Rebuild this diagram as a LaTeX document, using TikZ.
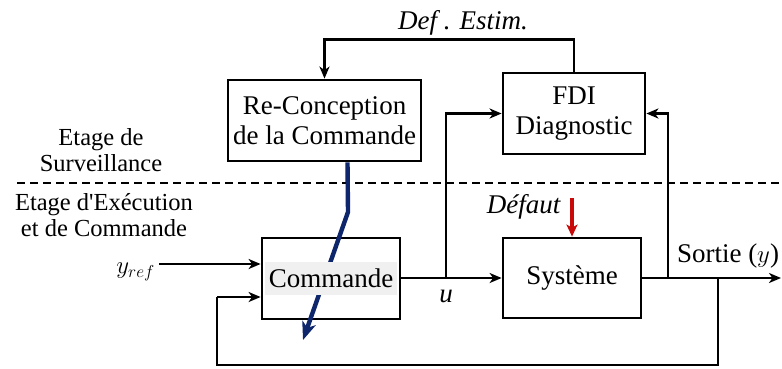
\documentclass[tikz,border=0pt]{standalone}
\usepackage{fontspec}
\setmainfont{Liberation Serif}
% same face without the TeX quote mapping, for a straight apostrophe
\newfontfamily\plainserif{Liberation Serif}
\usetikzlibrary{arrows.meta}
\definecolor{navy}{RGB}{14,38,108}
\definecolor{faultred}{RGB}{200,10,10}
\definecolor{hilite}{RGB}{240,240,240}
\tikzset{
  blockbox/.style={draw, line width=2.8pt, align=center, inner sep=0pt,
    font=\fontsize{27}{30}\selectfont},
  sigline/.style={line width=2.8pt},
  sigarrow/.style={line width=2.8pt, -{Stealth[length=12pt,width=10pt,inset=3.5pt]}},
  lbl/.style={inner sep=0pt, font=\fontsize{27}{30}\selectfont},
  stagelbl/.style={inner sep=0pt, align=center, font=\plainserif\fontsize{24.5}{26.5}\selectfont},
}
\begin{document}
\begin{tikzpicture}[x=1pt,y=-1pt]
\useasboundingbox (0,0) rectangle (782,368);

% blocks
\node[blockbox, minimum width=193pt, minimum height=81pt] (recon) at (324.5,120.5)
  {Re-Conception\\de la Commande};
\node[blockbox, minimum width=142pt, minimum height=81pt] (fdi) at (574,113.5)
  {FDI\\Diagnostic};
\node[draw, line width=2.8pt, minimum width=138pt, minimum height=81pt, inner sep=0pt] (cmdbox) at (331,278.5) {};
\node[blockbox, minimum width=138pt, minimum height=80pt] (sys) at (572,278)
  {Système};

% separation between the two stages
\coordinate (dashL) at (17,183);
\coordinate (dashR) at (782,183);
\draw[line width=1.9pt, dash pattern=on 8pt off 5pt] (dashL) -- (dashR);

\node[stagelbl] (surv) at (101,150) {Etage de\\Surveillance};
\node[stagelbl] (exec) at (104,215) {Etage d'Exécution\\et de Commande};

% estimated faults fed back to the reconfiguration
\draw[sigarrow] (fdi.north) -- ++(0,-32) -| (recon.north);
\node[lbl, anchor=base] (estim) at (463,29) {\textit{Def . Estim.}};

% reconfiguration acting on the controller
\coordinate (bend) at (348,212);
\coordinate (bluetip) at (303,340);
\draw[navy, line width=4.4pt, -{Stealth[length=18pt,width=14pt,inset=5pt]}]
  ([xshift=23pt]recon.south) -- (bend) -- (bluetip);
\node[fill=hilite, minimum width=132pt, minimum height=33pt, inner sep=0pt,
  font=\fontsize{27}{30}\selectfont] (cmd) at (331,278.5) {Commande};

% reference input
\coordinate (yrefstart) at (159,264);
\draw[sigarrow] (yrefstart) -- (yrefstart -| cmdbox.west);
\node[lbl, anchor=east] (yref) at ([xshift=-4pt,yshift=-8pt]yrefstart) {$y_{ref}$};

% control signal
\draw[sigarrow] (cmdbox.east |- sys.west) -- (sys.west);
\coordinate (ujunc) at (446,278);
\draw[sigarrow] (ujunc) |- (fdi.west);
\node[lbl, anchor=base] (ulbl) at (446,302) {\textit{u}};

% fault
\coordinate (faulttop) at (572,198);
\draw[faultred, line width=3.2pt, -{Stealth[length=12pt,width=11pt,inset=3pt]}]
  (faulttop) -- (sys.north);
\node[lbl, anchor=base east] (fault) at (561,213) {\textit{Défaut}};

% output
\coordinate (out) at (781,278);
\draw[sigarrow] (sys.east) -- (out);
\node[lbl, anchor=base] (sortie) at (728,262) {Sortie ($y$)};
\coordinate (yjunc) at (668,278);
\draw[sigarrow] (yjunc) |- (fdi.east);

% feedback loop
\coordinate (fbjunc) at (718,278);
\coordinate (fbbottom) at (718,365);
\coordinate (fbleft) at (217,297);
\draw[sigline] (fbjunc) -- (fbbottom) -| (fbleft);
\draw[sigarrow] (fbleft) -- (fbleft -| cmdbox.west);
\end{tikzpicture}
\end{document}
